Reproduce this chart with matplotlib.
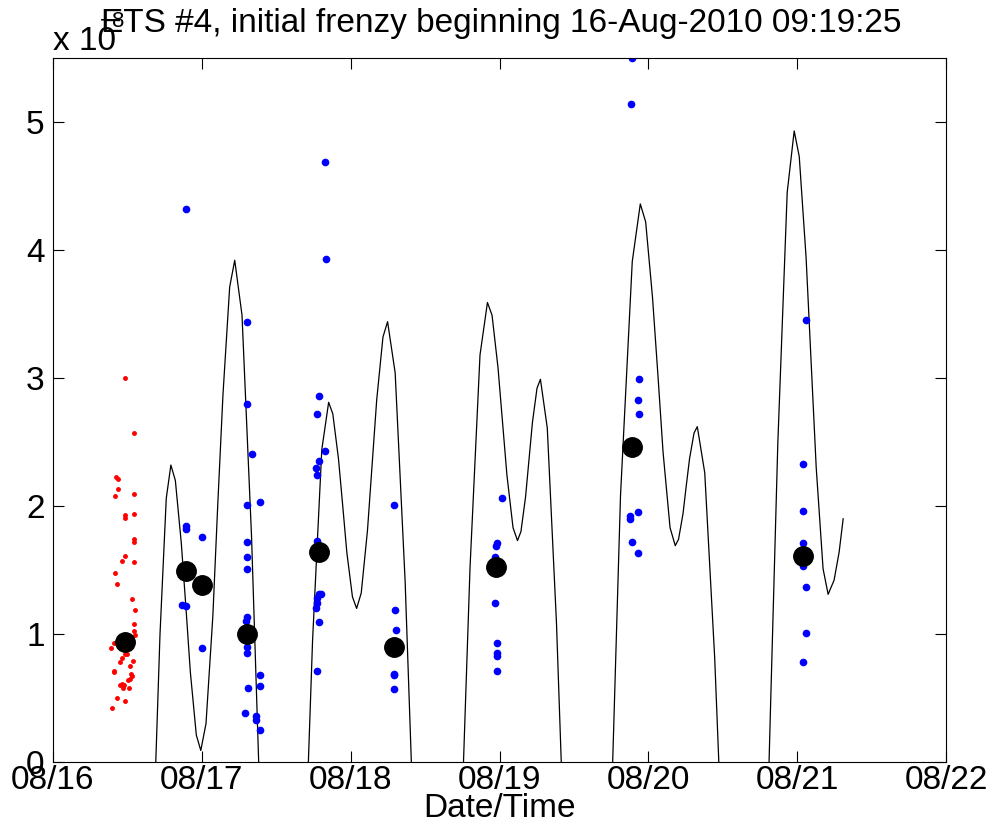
import numpy as np
import matplotlib
matplotlib.use("Agg")
import matplotlib.pyplot as plt

plt.rcParams['font.family'] = ['Liberation Sans', 'DejaVu Sans']

SCALE = 1e-8

# time in days of August 2010, values in units of 1e-8
red_t = [16.483, 16.544, 16.421, 16.438, 16.438, 16.416, 16.544, 16.485, 16.485, 16.541,
         16.544, 16.544, 16.483, 16.465, 16.541, 16.416, 16.427, 16.528, 16.552, 16.541,
         16.541, 16.552, 16.411, 16.387, 16.494, 16.483, 16.499, 16.463, 16.450, 16.539,
         16.517, 16.411, 16.409, 16.526, 16.528, 16.519, 16.505, 16.465, 16.452, 16.479,
         16.468, 16.510, 16.432, 16.483, 16.399]
red_v = [3.00, 2.57, 2.23, 2.21, 2.13, 2.08, 2.09, 1.93, 1.91, 1.94,
         1.74, 1.72, 1.61, 1.57, 1.56, 1.48, 1.39, 1.27, 1.19, 1.08,
         1.02, 0.99, 0.93, 0.89, 0.88, 0.84, 0.84, 0.81, 0.78, 0.79,
         0.75, 0.71, 0.70, 0.69, 0.67, 0.65, 0.64, 0.61, 0.60, 0.60,
         0.58, 0.58, 0.50, 0.48, 0.42]

blue_t = [16.895, 16.895, 16.895, 16.864, 16.895, 17.000, 17.002,
          17.304, 17.304, 17.337, 17.306, 17.391, 17.304, 17.304, 17.304, 17.304, 17.300,
          17.304, 17.304, 17.389, 17.308, 17.389, 17.288, 17.367, 17.367, 17.389,
          17.826, 17.832, 17.787, 17.774, 17.830, 17.787, 17.767, 17.774, 17.776, 17.787,
          17.803, 17.772, 17.772, 17.770, 17.785, 17.772,
          18.293, 18.295, 18.302, 18.293, 18.293, 18.293,
          19.020, 18.980, 18.978, 18.973, 18.971, 18.980, 18.980, 18.980, 18.982,
          19.891, 19.884, 19.935, 19.933, 19.935, 19.875, 19.877, 19.933, 19.891, 19.933,
          21.058, 21.038, 21.036, 21.040, 21.038, 21.060, 21.060, 21.038]
blue_v = [4.32, 1.84, 1.82, 1.23, 1.22, 1.76, 0.89,
          3.44, 2.80, 2.41, 2.01, 2.03, 1.72, 1.60, 1.51, 1.13, 1.10,
          0.90, 0.85, 0.68, 0.58, 0.59, 0.38, 0.36, 0.33, 0.25,
          4.69, 3.93, 2.86, 2.72, 2.43, 2.35, 2.30, 2.24, 1.73, 1.31,
          1.31, 1.28, 1.24, 1.20, 1.09, 0.71,
          2.01, 1.19, 1.03, 0.69, 0.68, 0.57,
          2.06, 1.71, 1.69, 1.60, 1.24, 0.93, 0.85, 0.83, 0.71,
          5.50, 5.14, 2.99, 2.83, 2.72, 1.92, 1.90, 1.95, 1.72, 1.63,
          3.45, 2.33, 1.96, 1.71, 1.53, 1.37, 1.01, 0.78]

mean_t = [16.485, 16.891, 17.002, 17.304, 17.785, 18.293, 18.975, 19.893, 21.040]
mean_v = [0.94, 1.49, 1.38, 1.00, 1.64, 0.90, 1.52, 2.46, 1.61]

curve_t = [16.584, 16.615, 16.657, 16.688, 16.719, 16.761, 16.792,
           16.822, 16.862, 16.893, 16.923, 16.963, 16.993,
           17.028, 17.074, 17.107, 17.142, 17.187, 17.221,
           17.270, 17.334, 17.383, 17.431, 17.495, 17.544,
           17.590, 17.652, 17.698, 17.744, 17.806, 17.852,
           17.880, 17.918, 17.946, 17.974, 18.012, 18.040,
           18.071, 18.113, 18.144, 18.175, 18.217, 18.248,
           18.299, 18.366, 18.416, 18.466, 18.534, 18.584,
           18.634, 18.701, 18.752, 18.802, 18.869, 18.919,
           18.950, 18.990, 19.020, 19.050, 19.091, 19.121,
           19.144, 19.175, 19.198, 19.221, 19.252, 19.275,
           19.321, 19.383, 19.430, 19.476, 19.538, 19.584,
           19.638, 19.717, 19.765, 19.813, 19.892, 19.946,
           19.982, 20.028, 20.064, 20.099, 20.146, 20.181,
           20.203, 20.233, 20.255, 20.277, 20.307, 20.329,
           20.379, 20.446, 20.497, 20.547, 20.614, 20.664,
           20.712, 20.775, 20.822, 20.870, 20.933, 20.980,
           21.014, 21.060, 21.094, 21.128, 21.174, 21.208,
           21.248, 21.282, 21.309]
curve_v = [-2.50, -2.24, -1.18, -0.09, 1.00, 2.06, 2.32,
           2.20, 1.71, 1.21, 0.70, 0.21, 0.09,
           0.30, 1.14, 2.01, 2.87, 3.71, 3.92,
           3.49, 1.76, -0.04, -1.84, -3.57, -4.00,
           -3.63, -2.14, -0.60, 0.95, 2.44, 2.81,
           2.72, 2.37, 2.01, 1.64, 1.29, 1.20,
           1.32, 1.81, 2.32, 2.83, 3.32, 3.44,
           3.04, 1.41, -0.28, -1.97, -3.60, -4.00,
           -3.59, -1.93, -0.21, 1.52, 3.18, 3.59,
           3.49, 3.08, 2.66, 2.24, 1.83, 1.73,
           1.80, 2.07, 2.36, 2.65, 2.92, 2.99,
           2.61, 1.08, -0.51, -2.09, -3.62, -4.00,
           -3.55, -1.72, 0.18, 2.08, 3.91, 4.36,
           4.22, 3.63, 3.03, 2.42, 1.83, 1.69,
           1.74, 1.94, 2.16, 2.37, 2.57, 2.62,
           2.26, 0.81, -0.69, -2.19, -3.64, -4.00,
           -3.52, -1.56, 0.47, 2.49, 4.45, 4.93,
           4.73, 3.94, 3.12, 2.30, 1.51, 1.31,
           1.42, 1.64, 1.90]

xticks = [16, 17, 18, 19, 20, 21, 22]
xlabels = ['08/16', '08/17', '08/18', '08/19', '08/20', '08/21', '08/22']

fig = plt.figure(figsize=(9.93, 8.39), dpi=100)
ax = fig.add_axes([53 / 993, 77 / 839, 893 / 993, 704 / 839])

ax.plot(curve_t, np.array(curve_v) * SCALE, color='black', lw=0.9)
ax.plot(red_t, np.array(red_v) * SCALE, '.', color='red', ms=5)
ax.plot(blue_t, np.array(blue_v) * SCALE, '.', color='blue', ms=9)
ax.plot(mean_t, np.array(mean_v) * SCALE, 'o', color='black', ms=14)

ax.set_xlim(16, 22)
ax.set_ylim(0, 5.5e-8)
ax.set_xticks(xticks)
ax.set_xticklabels(xlabels)
ax.set_yticks([i * SCALE for i in range(6)])
ax.set_yticklabels([str(i) for i in range(6)])
ax.tick_params(direction='in', top=True, right=True, labelsize=24, length=8, pad=2)
ax.tick_params(axis='y', pad=6)
ax.set_xlabel('Date/Time', fontsize=24, labelpad=-2)

fig.text(53 / 993, 1 - 50 / 839, 'x 10', fontsize=24, va='baseline')
fig.text(100 / 993, 1 - 27 / 839, '\u22128', fontsize=16, va='baseline')
fig.text(0.505, 1 - 32 / 839, 'ETS #4, initial frenzy beginning 16-Aug-2010 09:19:25',
         fontsize=24, ha='center', va='baseline')

fig.savefig('out.png', dpi=100)
